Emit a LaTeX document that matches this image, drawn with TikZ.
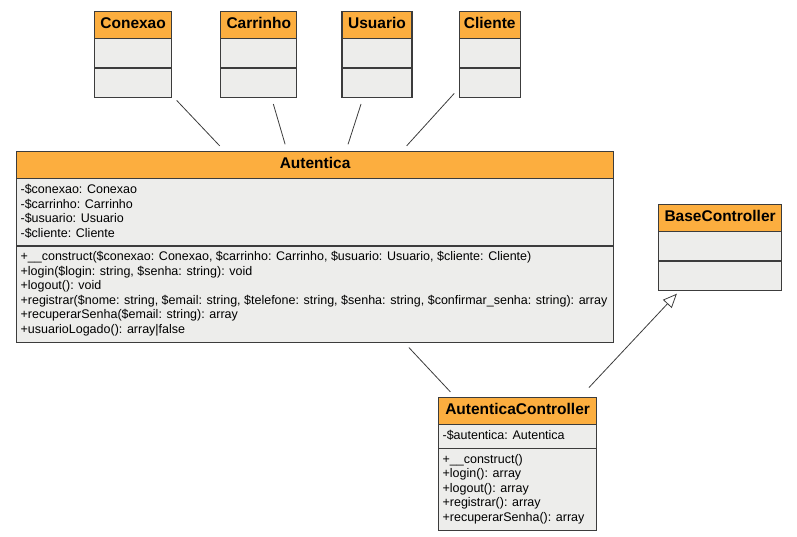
\documentclass[tikz,border=0pt]{standalone}
\usepackage{fontspec}
\setmainfont{Liberation Sans}
\usetikzlibrary{arrows.meta,positioning,shapes.multipart}

\definecolor{laranja}{RGB}{252,174,63}
\definecolor{cinza}{RGB}{237,237,235}
\definecolor{borda}{RGB}{60,60,60}

\newcommand{\titulo}[1]{{\fontsize{15.5}{18}\selectfont\bfseries\strut #1}}
\newcommand{\membro}{\fontsize{12.5}{14.5}\selectfont}

\begin{document}
\begin{tikzpicture}[x=1pt,y=-1pt,node distance=44pt]

        \tikzstyle{classe}=[draw=borda,line width=1.2pt,rectangle split,rectangle split parts=3,
          rectangle split part fill={laranja,cinza,cinza},rectangle split part align={center,left,left},
          align=left,font=\membro,inner xsep=4pt,inner ysep=4pt]
        \tikzstyle{vazia}=[classe,rectangle split empty part height=20pt,rectangle split empty part depth=0pt]
        \tikzstyle{ligacao}=[draw=borda,line width=0.8pt,shorten <=6.5pt,shorten >=7pt]

        \useasboundingbox (0,0) rectangle (797,537);

        \node[vazia,anchor=north west,minimum width=77pt] (conexao) at (94,11) {\titulo{Conexao} \nodepart{two} \nodepart{three}};
        \node[vazia,minimum width=76pt] (carrinho) [right=48pt of conexao] {\titulo{Carrinho} \nodepart{two} \nodepart{three}};
        \node[vazia,minimum width=70pt] (usuario) [right=44pt of carrinho] {\titulo{Usuario} \nodepart{two} \nodepart{three}};
        \node[vazia,minimum width=61pt] (cliente) [right=46pt of usuario] {\titulo{Cliente} \nodepart{two} \nodepart{three}};

        \node[classe,anchor=north west,minimum width=597pt] (autentica) at (16,151) {\titulo{Autentica}
          \nodepart{two}\strut-\$conexao: Conexao\\ \strut-\$carrinho: Carrinho\\ \strut-\$usuario: Usuario\\ \strut-\$cliente: Cliente
          \nodepart{three}\strut+\_\_construct(\$conexao: Conexao, \$carrinho: Carrinho, \$usuario: Usuario, \$cliente: Cliente)\\
          \strut+login(\$login: string, \$senha: string): void\\
          \strut+logout(): void\\
          \strut+registrar(\$nome: string, \$email: string, \$telefone: string, \$senha: string, \$confirmar\_senha: string): array\\
          \strut+recuperarSenha(\$email: string): array\\
          \strut+usuarioLogado(): array|false};

        \node[vazia,anchor=north west,minimum width=123pt] (base) at (658,204) {\titulo{BaseController} \nodepart{two} \nodepart{three}};

        \node[classe,anchor=north west,minimum width=158pt] (controller) at (438,397) {\titulo{AutenticaController}
          \nodepart{two}\strut-\$autentica: Autentica
          \nodepart{three}\strut+\_\_construct()\\
          \strut+login(): array\\
          \strut+logout(): array\\
          \strut+registrar(): array\\
          \strut+recuperarSenha(): array};

        % associacoes
        \path [ligacao] (conexao) -- (autentica);
        \path [ligacao] (carrinho) -- (autentica);
        \path [ligacao] (usuario) -- (autentica);
        \path [ligacao] (cliente) -- (autentica);
        \path [ligacao] (autentica) -- (controller);

        % heranca
        \path [ligacao,shorten <=13pt,shorten >=4pt,-{Triangle[open,length=14pt,width=12pt]}] (controller) -- (base);
      \end{tikzpicture}
\end{document}
